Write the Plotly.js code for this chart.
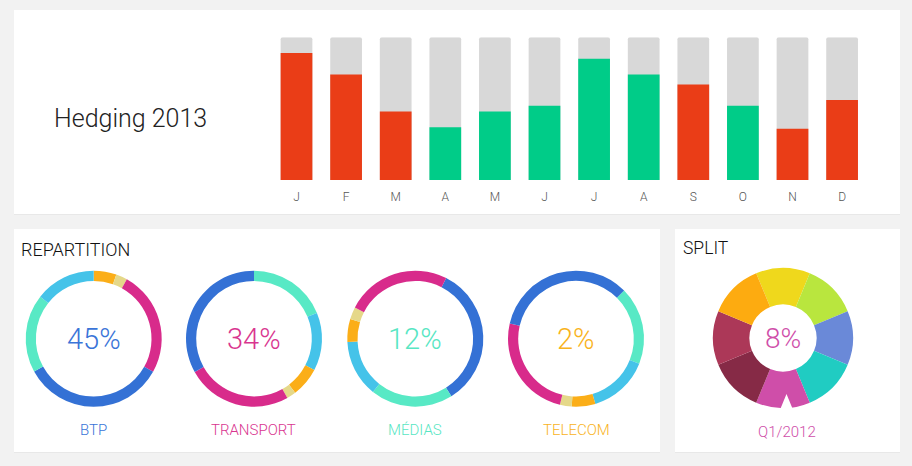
<!DOCTYPE html>
<html><head><meta charset="utf-8">
<script src="https://cdn.plot.ly/plotly-3.0.1.min.js"></script>
<style>html,body{margin:0;padding:0;background:#f2f2f2;} #chart{width:912px;height:466px;}</style>
</head><body><div id="chart"></div>
<script>
// ---- Data ----
const months = ['J','F','M','A','M','J','J','A','S','O','N','D'];
const hedging = [89, 74, 48, 37, 48, 52, 85, 74, 67, 52, 36, 56];
const trend = ['down','down','down','up','up','up','up','up','down','up','down','down'];
const maxValue = [100, 100, 100, 100, 100, 100, 100, 100, 100, 100, 100, 100];

const donutNames = ['BTP', 'TRANSPORT', 'MÉDIAS', 'TELECOM'];
const donutPercents = ['45%', '34%', '12%', '2%'];
const btpLabels = ['orange','sand','magenta','blue','mint','sky'];
const btpValues = [5.4, 2.7, 25.0, 33.9, 18.6, 14.4];
const transportLabels = ['mint','sky','orange','sand','magenta','blue'];
const transportValues = [18.8, 13.8, 7.0, 2.2, 25.0, 33.1];
const mediasLabels = ['blue','mint','sky','orange','sand','magenta'];
const mediasValues = [33.6, 19.6, 13.5, 5.5, 2.9, 24.9];
const telecomLabels = ['mint','sky','orange','sand','magenta','blue'];
const telecomValues = [18.5, 14.4, 5.6, 2.8, 24.8, 33.9];

const splitLabels = ['s1','s2','s3','s4','s5','s6','s7','s8'];
const splitValues = [12.5, 12.5, 12.5, 12.5, 12.5, 12.5, 12.5, 12.5];
const splitCenter = '8%';
const splitPeriod = 'Q1/2012';

// ---- Styles ----
const W = 912, H = 466;
const FONT = '"Helvetica Neue", Roboto, "Liberation Sans", Arial, sans-serif';
const trendColor = {down: '#ea3d17', up: '#00cc88'};
const segColor = {orange: '#fbae18', sand: '#e5d889', magenta: '#d82b8b', blue: '#3471d5', mint: '#58e9c5', sky: '#45c3e9'};
const splitColors = ['#efd81c', '#b9e63e', '#6a89d8', '#20ccc2', '#cf4ea9', '#862a46', '#ac3858', '#fdab10'];
const nameColors = ['#3a74d8', '#d9358f', '#58e6c3', '#f9b31c'];
const px = x => x / W, py = y => 1 - y / H;
function dom(cx, cy, r) { return {x: [px(cx - r), px(cx + r)], y: [py(cy + r), py(cy - r)]}; }

const idx = months.map((m, i) => i);
const traces = [
  {type: 'bar', x: idx, y: maxValue, marker: {color: '#d8d8d8', cornerradius: 2}, hoverinfo: 'none', showlegend: false},
  {type: 'bar', x: idx, y: hedging, marker: {color: trend.map(t => trendColor[t]), cornerradius: 2}, hoverinfo: 'none', showlegend: false}
];

const donutCenters = [93.7, 254, 415.3, 576];
const donutCY = 338.7, donutR = 68;
const donutSets = [[btpLabels, btpValues, 0], [transportLabels, transportValues, 0], [mediasLabels, mediasValues, 27], [telecomLabels, telecomValues, 45]];
donutSets.forEach((s, i) => {
  traces.push({type: 'pie', labels: s[0].map(l => donutNames[i] + '-' + l), values: s[1], sort: false, direction: 'clockwise', rotation: s[2],
    hole: 0.85, textinfo: 'none', hoverinfo: 'none', showlegend: false,
    marker: {colors: s[0].map(l => segColor[l]), line: {width: 0}}, domain: dom(donutCenters[i], donutCY, donutR)});
});
traces.push({type: 'pie', labels: splitLabels, values: splitValues, sort: false, direction: 'clockwise', rotation: -22.5,
  hole: 0.48, textinfo: 'none', hoverinfo: 'none', showlegend: false,
  marker: {colors: splitColors, line: {width: 0}}, domain: dom(783, 338, 70)});

const ann = [];
function A(text, x, y, size, color, anchor, weight) {
  ann.push({text: text, x: px(x), y: py(y), xref: 'paper', yref: 'paper', showarrow: false, xanchor: anchor || 'center', yanchor: 'middle',
    font: {family: FONT, size: size, color: color, weight: weight || 300}});
}
A('Hedging 2013', 52, 118, 25, '#222', 'left');
A('REPARTITION', 19, 250, 18, '#111', 'left');
A('SPLIT', 681, 248, 17.5, '#111', 'left');
donutNames.forEach((n, i) => {
  A(donutPercents[i], donutCenters[i], donutCY, 29, nameColors[i]);
  A(n, donutCenters[i], 430, 15, nameColors[i]);
});
A(splitCenter, 783, 338, 28, '#cf4ea9');
A(splitPeriod, 786.5, 432, 15, '#cf4ea9');

function rect(x0, y0, x1, y1, color) {
  return {type: 'rect', xref: 'paper', yref: 'paper', x0: px(x0), x1: px(x1), y0: py(y1), y1: py(y0), fillcolor: color, line: {width: 0}, layer: 'below'};
}
const shapes = [
  rect(14, 11, 900, 215, '#e8e8e8'), rect(14, 10, 900, 214, '#ffffff'),
  rect(14, 230, 660, 453, '#e8e8e8'), rect(14, 229, 660, 452, '#ffffff'),
  rect(675, 230, 900, 453, '#e8e8e8'), rect(675, 229, 900, 452, '#ffffff'),
  {type: 'path', xref: 'paper', yref: 'paper', layer: 'above', fillcolor: '#ffffff', line: {width: 0},
   path: 'M ' + px(786.5) + ' ' + py(394) + ' L ' + px(793.5) + ' ' + py(411) + ' L ' + px(779.5) + ' ' + py(411) + ' Z'}
];

const layout = {
  width: W, height: H, margin: {l: 0, r: 0, t: 0, b: 0},
  paper_bgcolor: '#f2f2f2', plot_bgcolor: 'rgba(0,0,0,0)',
  barmode: 'overlay', bargap: 0.36, showlegend: false,
  font: {family: FONT},
  xaxis: {domain: [px(271.7), px(866.9)], range: [-0.5, 11.5], tickvals: idx, ticktext: months, showgrid: false, zeroline: false, showline: false,
    ticks: '', tickfont: {family: FONT, size: 12, color: '#555', weight: 300}, ticklabelstandoff: 8, fixedrange: true},
  yaxis: {domain: [py(180), py(37.3)], range: [0, 100], visible: false, fixedrange: true},
  annotations: ann, shapes: shapes
};
Plotly.newPlot('chart', traces, layout, {displayModeBar: false, staticPlot: true});
</script></body></html>
